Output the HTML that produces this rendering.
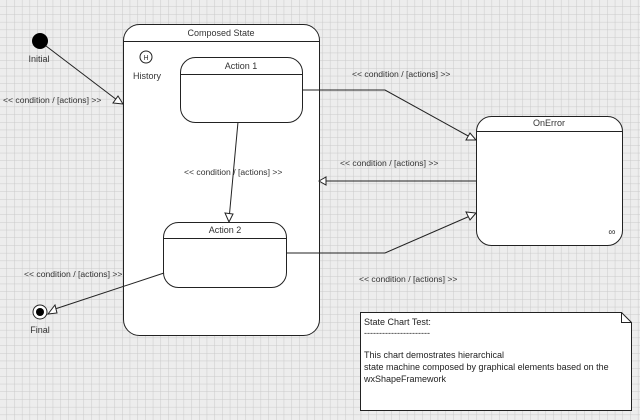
<!DOCTYPE html>
<html><head><meta charset="utf-8"><style>
html,body{margin:0;padding:0;background:#ececec;}
svg{display:block;font-family:"Liberation Sans",sans-serif;}
</style></head><body>
<svg width="640" height="420" viewBox="0 0 640 420" xmlns="http://www.w3.org/2000/svg">
<defs>
<pattern id="g" width="7.7" height="7.7" patternUnits="userSpaceOnUse" x="6.5" y="6.5">
<rect width="7.7" height="7.7" fill="#ededed"/>
<path d="M0 0H7.7M0 0V7.7" stroke="#cacaca" stroke-width="1" fill="none"/>
</pattern>
</defs>
<rect width="640" height="420" fill="url(#g)"/>
<g stroke="#222" stroke-width="1" fill="#fff">
<rect x="123.5" y="24.5" width="196" height="311" rx="16"/>
<line x1="123.5" y1="41.5" x2="319.5" y2="41.5"/>
<circle cx="146" cy="57" r="6"/>
<rect x="180.5" y="57.5" width="122" height="65" rx="15"/>
<line x1="180.5" y1="74.5" x2="302.5" y2="74.5"/>
<rect x="163.5" y="222.5" width="123" height="65" rx="15"/>
<line x1="163.5" y1="238.5" x2="286.5" y2="238.5"/>
<rect x="476.5" y="116.5" width="146" height="129" rx="15"/>
<line x1="476.5" y1="131.5" x2="622.5" y2="131.5"/>
<path d="M360.5 312.5H621.5L631.5 322.5V410.5H360.5Z"/>
<path d="M621.5 312.5V322.5H631.5" fill="none"/>
</g>
<circle cx="40" cy="41" r="8" fill="#000"/>
<circle cx="40" cy="312" r="7" fill="#fff" stroke="#222"/>
<circle cx="40" cy="312" r="4" fill="#000"/>
<g stroke="#222" stroke-width="1" fill="none">
<line x1="46" y1="46" x2="117" y2="100"/>
<polyline points="302,90 385,90 470,137"/>
<line x1="476" y1="181" x2="326" y2="181"/>
<polyline points="286,253 385,253 470,216"/>
<line x1="238" y1="122" x2="229.5" y2="214"/>
<line x1="164" y1="273" x2="55" y2="309"/>
</g>
<g stroke="#222" stroke-width="1" fill="#fff">
<polygon points="123,104 113,103 118,96"/>
<polygon points="476,140 466,140 470,133"/>
<polygon points="319,181 326,177 326,185"/>
<polygon points="476,213 470,220 466,212"/>
<polygon points="229,222 225,213 233,214"/>
<polygon points="48,314 55,305 57,313"/>
</g>
<g font-size="9" fill="#333" text-anchor="middle">
<text x="221" y="36">Composed State</text>
<text x="241" y="69">Action 1</text>
<text x="225" y="233">Action 2</text>
<text x="549" y="126">OnError</text>
<text x="146" y="60" font-size="7">H</text>
<text x="147" y="79">History</text>
<text x="39" y="62">Initial</text>
<text x="40" y="333">Final</text>
<text x="612" y="235" font-size="10">∞</text>
</g>
<g font-size="8.6" fill="#333">
<text x="3" y="103">&lt;&lt; condition / [actions] &gt;&gt;</text>
<text x="352" y="77">&lt;&lt; condition / [actions] &gt;&gt;</text>
<text x="340" y="166">&lt;&lt; condition / [actions] &gt;&gt;</text>
<text x="184" y="175">&lt;&lt; condition / [actions] &gt;&gt;</text>
<text x="359" y="282">&lt;&lt; condition / [actions] &gt;&gt;</text>
<text x="24" y="277">&lt;&lt; condition / [actions] &gt;&gt;</text>
</g>
<g font-size="9" fill="#222">
<text x="364" y="325">State Chart Test:</text>
<text x="364" y="336">----------------------</text>
<text x="364" y="358">This chart demostrates hierarchical</text>
<text x="364" y="370">state machine composed by graphical elements based on the</text>
<text x="364" y="382">wxShapeFramework</text>
</g>
</svg>
</body></html>
